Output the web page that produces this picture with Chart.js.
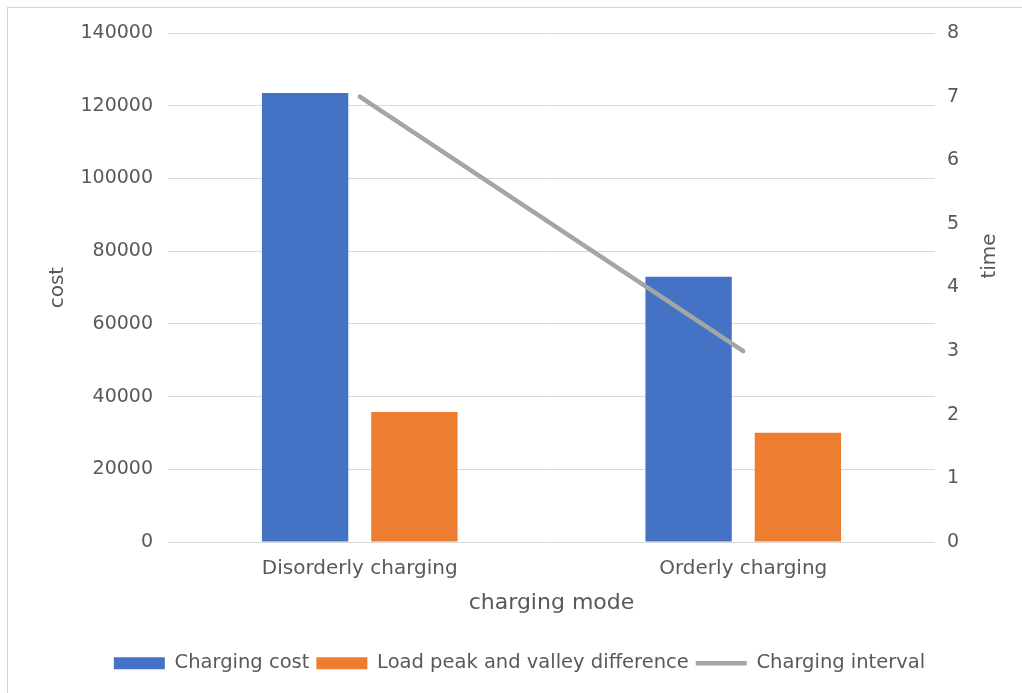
<!DOCTYPE html>
<html>
<head>
<meta charset="utf-8">
<script src="https://cdn.jsdelivr.net/npm/chart.js@4/dist/chart.umd.min.js"></script>
<style>
  html, body { margin: 0; padding: 0; background: #fff; }
  #wrap { position: absolute; left: 0; top: 0; width: 1022px; height: 693px; }
</style>
</head>
<body>
<div id="wrap"><canvas id="chart" width="1022" height="693"></canvas></div>
<script>
// Charging modes compared
const categories = ['Disorderly charging', 'Orderly charging'];
// Cost-axis series
const chargingCost = [123500, 73000];
const peakValleyDifference = [35800, 30100];
// Time-axis series
const chargingInterval = [7, 3];
// Axis ranges
const costRange = { min: 0, max: 140000, step: 20000 };
const timeRange = { min: 0, max: 8, step: 1 };

const TEXT = '#595959';
const GRID = '#D9D9D9';
const FONT = 'DejaVu Sans';

Chart.defaults.font.family = FONT;
Chart.defaults.color = TEXT;

// Frame around the figure and the rotated secondary-axis title
const framePlugin = {
  id: 'frame',
  beforeDraw(chart) {
    const ctx = chart.ctx;
    ctx.save();
    ctx.fillStyle = '#fff';
    ctx.fillRect(0, 0, chart.width, chart.height);
    ctx.strokeStyle = '#D4D4D4';
    ctx.lineWidth = 1;
    ctx.strokeRect(7.5, 7.5, chart.width + 20, chart.height + 20);
    ctx.restore();
  },
  afterDraw(chart) {
    const ctx = chart.ctx;
    const s = chart.scales.y1;
    ctx.save();
    ctx.fillStyle = TEXT;
    ctx.font = '20px "' + FONT + '"';
    ctx.textAlign = 'center';
    ctx.textBaseline = 'middle';
    ctx.translate(s.right - 32, 256);
    ctx.rotate(-Math.PI / 2);
    ctx.fillText('time', 0, 0);
    ctx.restore();
  }
};

new Chart(document.getElementById('chart'), {
  data: {
    labels: categories,
    datasets: [
      {
        type: 'bar',
        label: 'Charging cost',
        data: chargingCost,
        backgroundColor: '#4472C4',
        borderWidth: 0,
        yAxisID: 'y',
        order: 1,
        categoryPercentage: 0.57,
        barPercentage: 0.79
      },
      {
        type: 'bar',
        label: 'Load peak and valley difference',
        data: peakValleyDifference,
        backgroundColor: '#ED7D31',
        borderWidth: 0,
        yAxisID: 'y',
        order: 1,
        categoryPercentage: 0.57,
        barPercentage: 0.79
      },
      {
        type: 'line',
        label: 'Charging interval',
        data: chargingInterval,
        borderColor: '#A5A5A5',
        backgroundColor: '#A5A5A5',
        borderWidth: 4.5,
        borderCapStyle: 'round',
        pointRadius: 0,
        pointHoverRadius: 0,
        yAxisID: 'y1',
        order: 0,
        pointStyle: 'line'
      }
    ]
  },
  options: {
    responsive: false,
    devicePixelRatio: 1,
    animation: false,
    layout: { padding: { left: 17, right: 0, top: 33, bottom: 10 } },
    plugins: {
      tooltip: { enabled: false },
      legend: {
        position: 'bottom',
        labels: {
          usePointStyle: true,
          pointStyleWidth: 51,
          boxHeight: 12,
          padding: 7,
          color: TEXT,
          font: { size: 19.5 },
          sort: (a, b) => a.datasetIndex - b.datasetIndex,
          generateLabels(chart) {
            const items = Chart.defaults.plugins.legend.labels.generateLabels(chart);
            items.forEach(it => {
              const ds = chart.data.datasets[it.datasetIndex];
              it.pointStyle = ds.type === 'line' ? 'line' : 'rect';
              if (ds.type === 'line') { it.lineWidth = 4.5; it.strokeStyle = '#A5A5A5'; }
            });
            return items;
          }
        }
      }
    },
    scales: {
      x: {
        grid: { display: false, drawTicks: false },
        border: { display: false },
        ticks: { padding: 14.5, font: { size: 20 }, color: TEXT },
        title: {
          display: true,
          text: 'charging mode',
          color: TEXT,
          font: { size: 22, lineHeight: 0.7 },
          padding: { top: 0, bottom: 36 }
        }
      },
      y: {
        position: 'left',
        min: costRange.min,
        max: costRange.max,
        border: { display: false },
        grid: { color: GRID, lineWidth: 1, drawTicks: false },
        ticks: {
          stepSize: costRange.step,
          padding: 15,
          font: { size: 19 },
          color: TEXT,
          callback: v => String(v)
        },
        title: {
          display: true,
          text: 'cost',
          color: TEXT,
          font: { size: 20 },
          padding: { top: 29, bottom: 0 }
        },
        afterFit(scale) { scale.width = 151; }
      },
      y1: {
        position: 'right',
        min: timeRange.min,
        max: timeRange.max,
        border: { display: false },
        grid: { display: false, drawTicks: false },
        ticks: { stepSize: timeRange.step, padding: 12, font: { size: 19 }, color: TEXT },
        afterFit(scale) { scale.width = 87; }
      }
    }
  },
  plugins: [framePlugin]
});
</script>
</body>
</html>
